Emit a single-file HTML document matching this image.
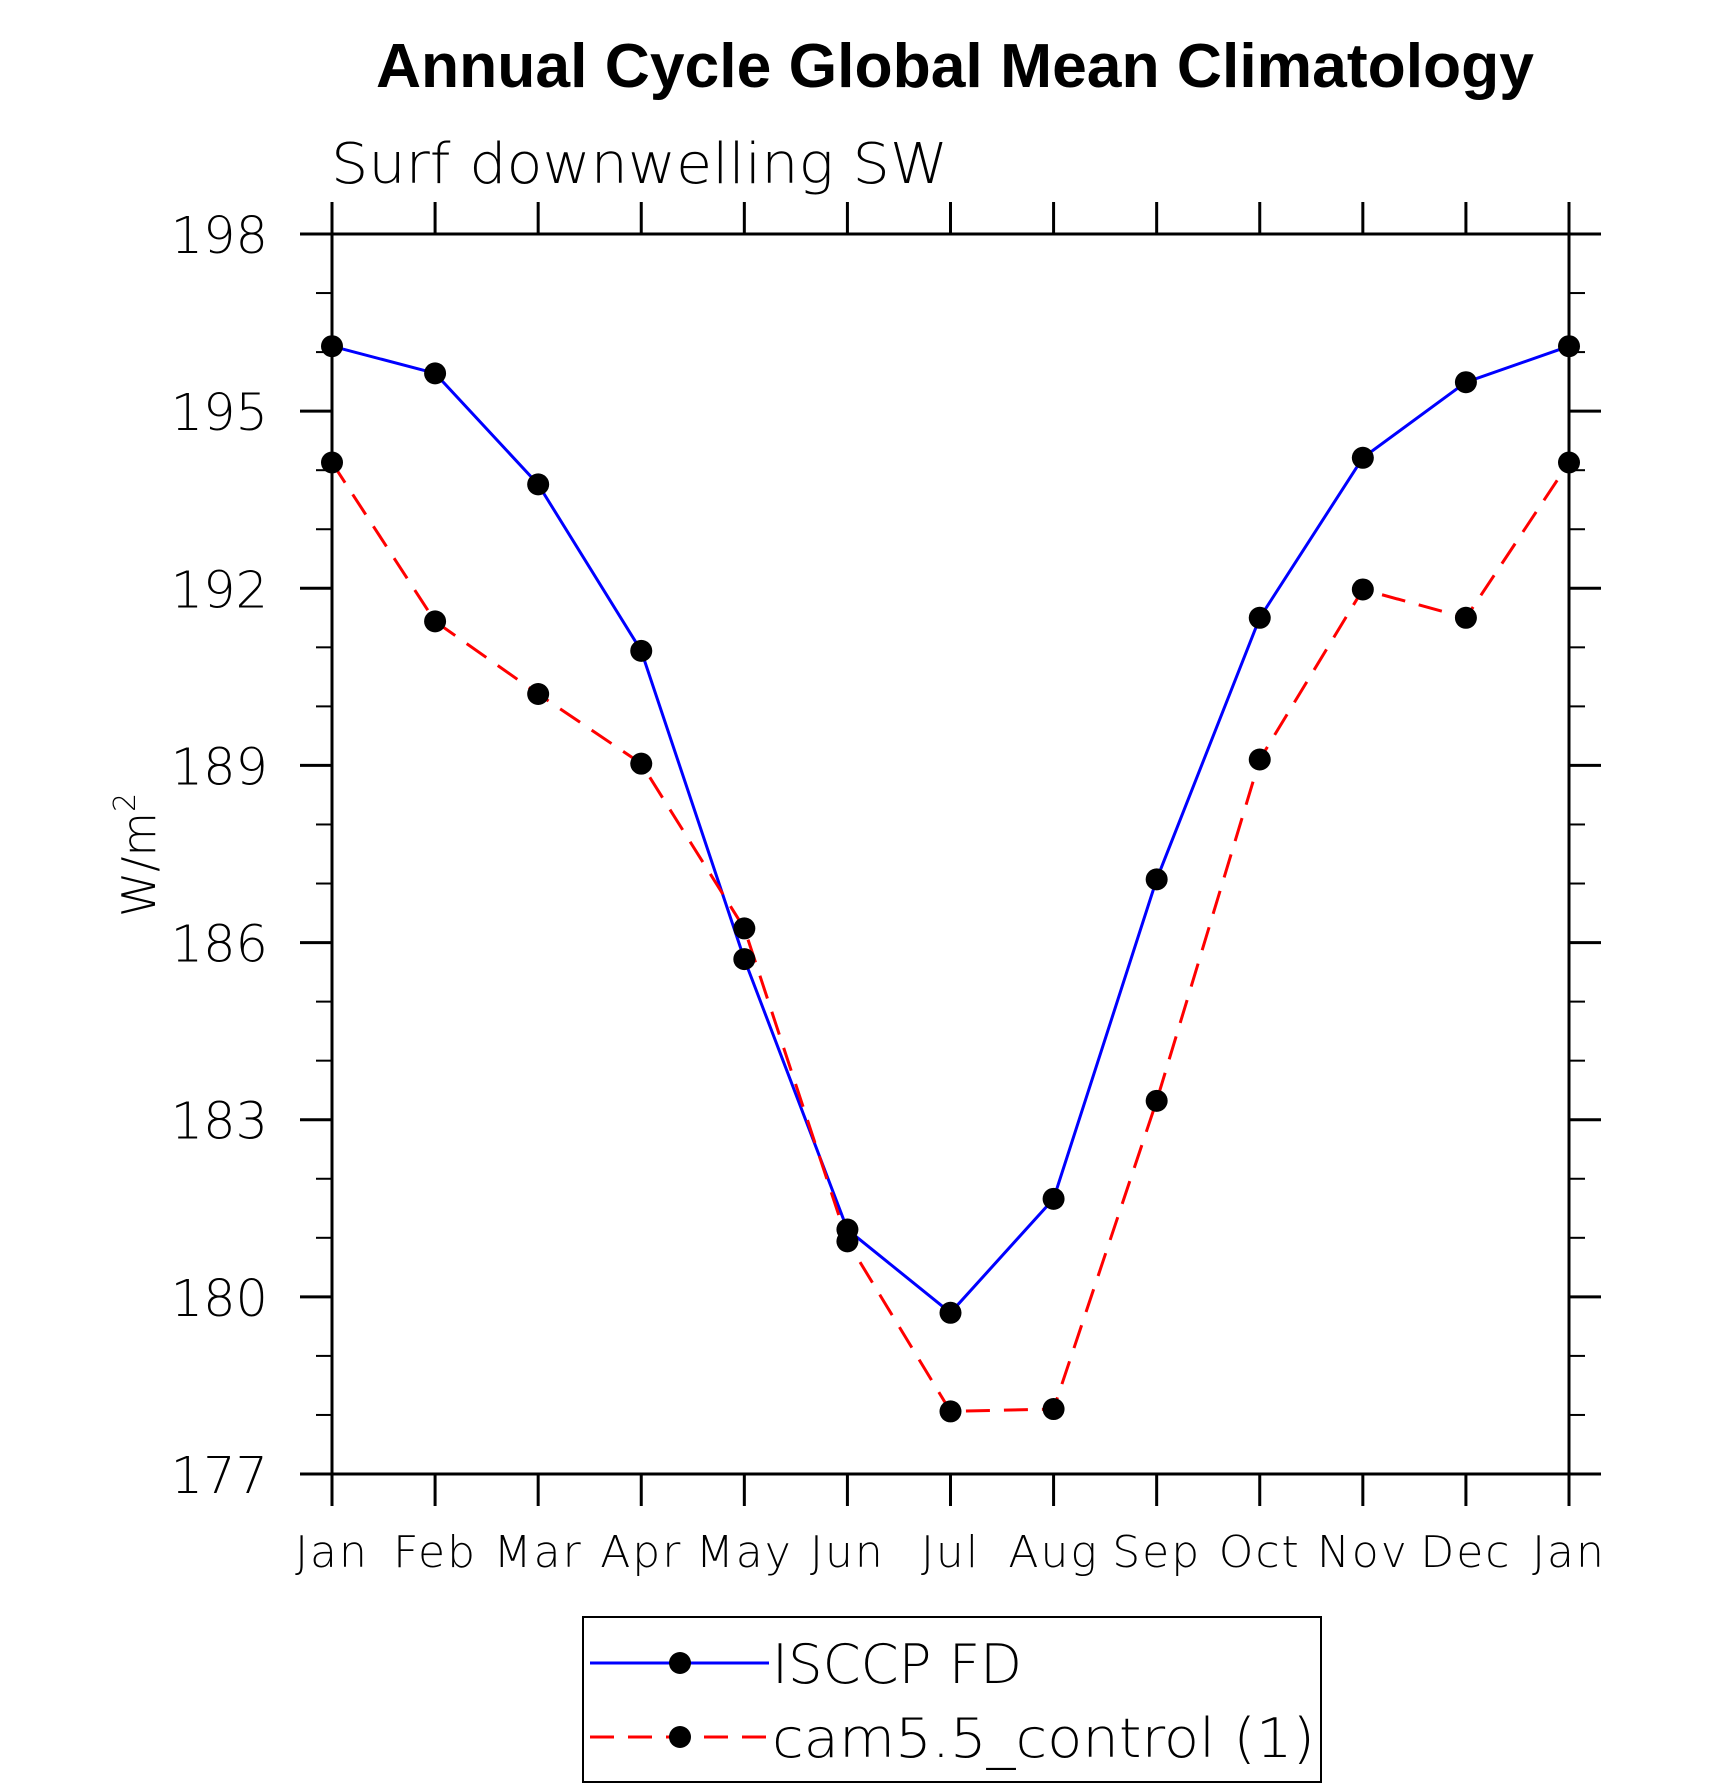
<!DOCTYPE html>
<html><head><meta charset="utf-8"><style>
html,body{margin:0;padding:0;background:#fff;}
svg{display:block;}
.lt{font-family:"DejaVu Sans","Liberation Sans",sans-serif;font-weight:200;fill:#000;}
</style></head><body>
<svg id="chart" width="1710" height="1789" viewBox="0 0 1710 1789" xmlns="http://www.w3.org/2000/svg">
<text x="955" y="87" text-anchor="middle" font-family="'Liberation Sans',sans-serif" font-weight="bold" font-size="62" textLength="1158" lengthAdjust="spacingAndGlyphs">Annual Cycle Global Mean Climatology</text>
<text class="lt" x="331" y="183" font-size="56" textLength="617" lengthAdjust="spacingAndGlyphs">Surf downwelling SW</text>
<text class="lt" transform="translate(155,917) rotate(-90)" font-size="46"><tspan textLength="105" lengthAdjust="spacingAndGlyphs">W/m</tspan><tspan font-size="30" dy="-20">2</tspan></text>
<g id="axes"></g>
<g id="series"></g>
<rect x="583" y="1617" width="738" height="165" fill="none" stroke="#000" stroke-width="2"/>
<g>
<line x1="590" y1="1663" x2="769" y2="1663" stroke="#0000ff" stroke-width="3"/>
<circle cx="680" cy="1663" r="11" fill="#000"/>
<text class="lt" x="772" y="1683" font-size="54" textLength="250" lengthAdjust="spacingAndGlyphs">ISCCP FD</text>
</g>
<g>
<line x1="590" y1="1737" x2="769" y2="1737" stroke="#ff0000" stroke-width="3" stroke-dasharray="24,14"/>
<circle cx="680" cy="1737" r="11" fill="#000"/>
<text class="lt" x="772" y="1757" font-size="54" textLength="543" lengthAdjust="spacingAndGlyphs">cam5.5_control (1)</text>
</g>
</svg>
<script>
const months = ["Jan","Feb","Mar","Apr","May","Jun","Jul","Aug","Sep","Oct","Nov","Dec","Jan"];
const isccp = [196.10,195.64,193.76,190.94,185.72,181.14,179.73,181.66,187.07,191.50,194.21,195.49,196.10];
const cam = [194.13,191.44,190.21,189.03,186.24,180.94,178.06,178.10,183.32,189.10,191.98,191.50,194.13];
const yTicks = [177,180,183,186,189,192,195,198];
const yMin = 177, yMax = 198;
const L=332,R=1569,T=234,B=1474;
const NS="http://www.w3.org/2000/svg";
function xs(i){return L+(R-L)*i/(months.length-1);}
function ys(v){return B-(v-yMin)/(yMax-yMin)*(B-T);}
function mk(tag,attrs,parent){const e=document.createElementNS(NS,tag);for(const k in attrs)e.setAttribute(k,attrs[k]);parent.appendChild(e);return e;}
const ax=document.getElementById('axes');
const frame=mk('rect',{x:L,y:T,width:R-L,height:B-T,fill:'none',stroke:'#000','stroke-width':3},ax);


months.forEach((m,i)=>{
  const x=xs(i);
  mk('line',{x1:x,y1:B,x2:x,y2:B+32,stroke:'#000','stroke-width':3},ax);
  mk('line',{x1:x,y1:T,x2:x,y2:T-32,stroke:'#000','stroke-width':3},ax);
  const t=mk('text',{x:x,y:1567,'text-anchor':'middle','font-size':44,'letter-spacing':2,class:'lt'},ax);
  t.textContent=m;
  
  
});
for(let v=yMin;v<=yMax;v++){
  const y=ys(v);
  const major=yTicks.includes(v);
  const len=major?32:16;
  mk('line',{x1:L,y1:y,x2:L-len,y2:y,stroke:'#000','stroke-width':major?3:2},ax);
  mk('line',{x1:R,y1:y,x2:R+len,y2:y,stroke:'#000','stroke-width':major?3:2},ax);
}
yTicks.forEach(v=>{
  const t=mk('text',{x:268,y:ys(v)+19,'text-anchor':'end','font-size':51,class:'lt'},ax);
  t.textContent=v;
  
  
});
const sg=document.getElementById('series');
function draw(vals,color,dash,name){
  const pts=vals.map((v,i)=>xs(i)+','+ys(v)).join(' ');
  const pl=mk('polyline',{points:pts,fill:'none',stroke:color,'stroke-width':3},sg);
  if(dash)pl.setAttribute('stroke-dasharray',dash);
  
  
}
function dots(vals,name){
  vals.forEach((v,i)=>{
    const c=mk('circle',{cx:xs(i),cy:ys(v),r:11,fill:'#000'},sg);
    
    
  });
}
draw(isccp,'#0000ff',null,'isccp');
draw(cam,'#ff0000','24,14','cam5');
dots(isccp,'isccp');
dots(cam,'cam5');
</script>
</body></html>
